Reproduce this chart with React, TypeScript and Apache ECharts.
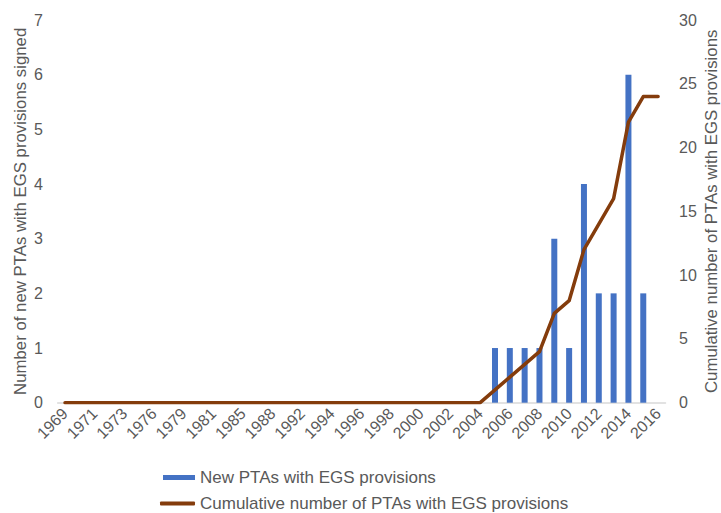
import React, { useEffect, useRef } from "react";
import * as echarts from "echarts";

const years = [
  "1969", "1970", "1971", "1972", "1973", "1975", "1976", "1977", "1979", "1980",
  "1981", "1983", "1985", "1986", "1988", "1990", "1992", "1993", "1994", "1995",
  "1996", "1997", "1998", "1999", "2000", "2001", "2002", "2003", "2004", "2005",
  "2006", "2007", "2008", "2009", "2010", "2011", "2012", "2013", "2014", "2015", "2016",
];

const newPTAs = [
  0, 0, 0, 0, 0, 0, 0, 0, 0, 0,
  0, 0, 0, 0, 0, 0, 0, 0, 0, 0,
  0, 0, 0, 0, 0, 0, 0, 0, 0, 1,
  1, 1, 1, 3, 1, 4, 2, 2, 6, 2, 0,
];

const cumulativePTAs = [
  0, 0, 0, 0, 0, 0, 0, 0, 0, 0,
  0, 0, 0, 0, 0, 0, 0, 0, 0, 0,
  0, 0, 0, 0, 0, 0, 0, 0, 0, 1,
  2, 3, 4, 7, 8, 12, 14, 16, 22, 24, 24,
];

const barName = "New PTAs with EGS provisions";
const lineName = "Cumulative number of PTAs with EGS provisions";
const leftTitle = "Number of new PTAs with EGS provisions signed";
const rightTitle = "Cumulative number of PTAs with EGS provisions";

export default function App() {
  const ref = useRef<HTMLDivElement>(null);
  useEffect(() => {
    if (!ref.current) return;
    const chart = echarts.init(ref.current, undefined, { renderer: "svg" });
    const font = "'Liberation Sans', Arial, sans-serif";
    const txt = "#595959";
    const fs = 16;
    const legendText = { fontFamily: font, fontSize: 17, color: txt };
    chart.setOption({
      animation: false,
      textStyle: { fontFamily: font },
      grid: {
        left: 57.6,
        right: 55.5,
        top: 20,
        bottom: 110.3,
        containLabel: false,
        outerBoundsMode: "none",
      },
      legend: [
        {
          left: 163,
          top: 469,
          padding: 0,
          itemWidth: 32,
          itemHeight: 5,
          textStyle: legendText,
          data: [{ name: barName, icon: "rect" }],
        },
        {
          left: 160,
          top: 495,
          padding: 0,
          itemWidth: 35,
          itemHeight: 4,
          textStyle: legendText,
          data: [{ name: lineName, icon: "roundRect" }],
        },
      ],
      xAxis: {
        type: "category",
        data: years,
        boundaryGap: true,
        axisLine: { lineStyle: { color: "#d9d9d9", width: 1.5 } },
        axisTick: { show: false },
        axisLabel: {
          interval: 1,
          rotate: 45,
          fontSize: fs,
          color: txt,
          fontFamily: font,
          margin: 8,
        },
      },
      yAxis: [
        {
          type: "value",
          min: 0,
          max: 7,
          interval: 1,
          splitLine: { show: false },
          axisLine: { show: false },
          axisTick: { show: false },
          axisLabel: { fontSize: fs, color: txt, fontFamily: font, margin: 14.6 },
          name: leftTitle,
          nameLocation: "middle",
          nameGap: 29,
          nameMoveOverlap: false,
          nameRotate: 90,
          nameTextStyle: { fontSize: 16.8, color: txt, fontFamily: font },
        },
        {
          type: "value",
          min: 0,
          max: 30,
          interval: 5,
          position: "right",
          splitLine: { show: false },
          axisLine: { show: false },
          axisTick: { show: false },
          axisLabel: { fontSize: fs, color: txt, fontFamily: font, margin: 13.5 },
          name: rightTitle,
          nameLocation: "middle",
          nameGap: 37.5,
          nameMoveOverlap: false,
          nameRotate: 90,
          nameTextStyle: { fontSize: 16.8, color: txt, fontFamily: font },
        },
      ],
      series: [
        {
          name: barName,
          type: "bar",
          data: newPTAs,
          yAxisIndex: 0,
          barWidth: 6,
          itemStyle: { color: "#4472C4" },
        },
        {
          name: lineName,
          type: "line",
          data: cumulativePTAs,
          yAxisIndex: 1,
          symbol: "none",
          lineStyle: { color: "#843C0C", width: 3.5, cap: "round", join: "round" },
          itemStyle: { color: "#843C0C" },
        },
      ],
    });
    return () => chart.dispose();
  }, []);
  return (
    <div
      ref={ref}
      style={{ position: "fixed", left: 0, top: 0, width: 721, height: 513, background: "#fff" }}
    />
  );
}
